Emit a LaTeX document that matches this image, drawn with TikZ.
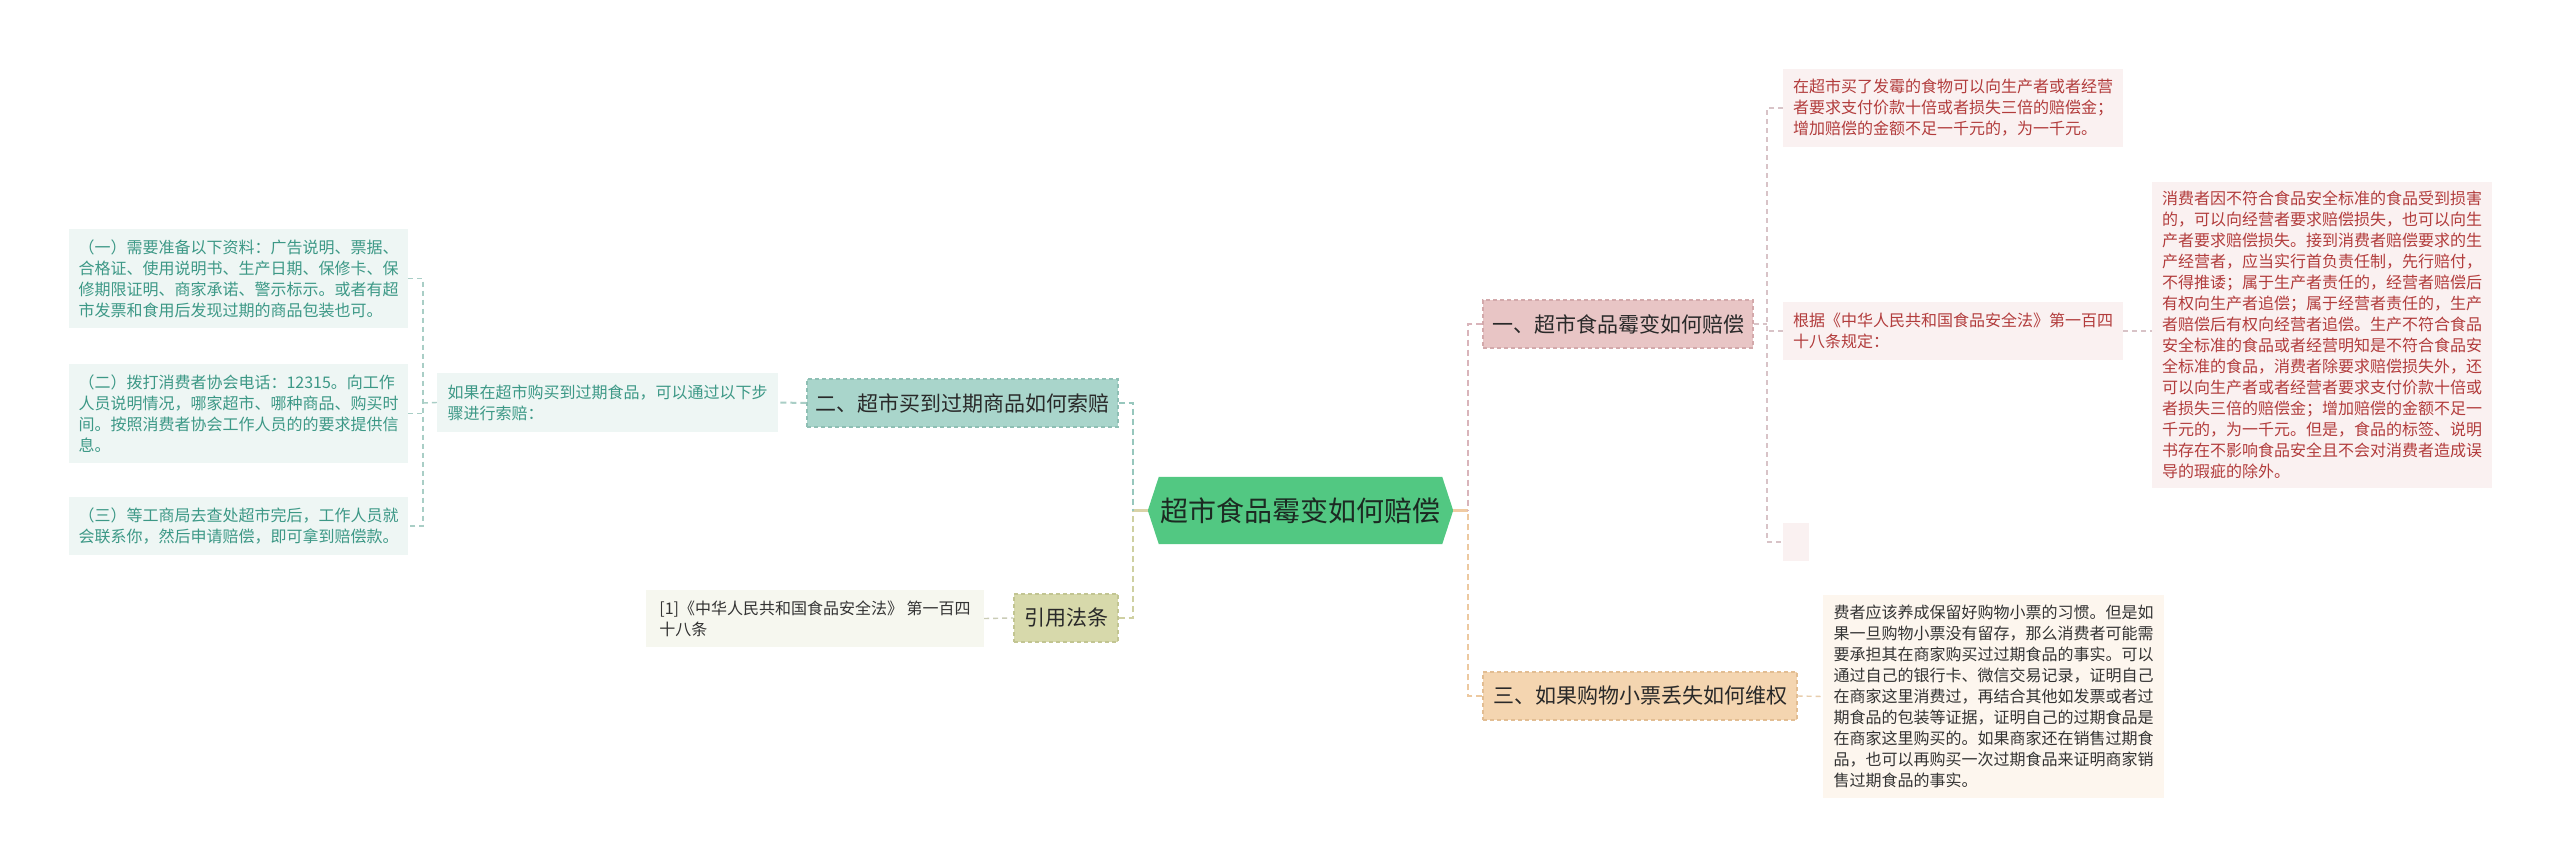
\documentclass[tikz,border=0pt]{standalone}
\usepackage{fontspec}
\setmainfont{Noto Sans CJK SC}
\usetikzlibrary{backgrounds}
\definecolor{cgreen}{HTML}{52C882}
\definecolor{ctext}{HTML}{1C2A22}
\definecolor{b1fill}{HTML}{E8C5C5}
\definecolor{b1line}{HTML}{D3A9AB}
\definecolor{b2fill}{HTML}{A9D5CB}
\definecolor{b2line}{HTML}{8EBFB4}
\definecolor{b3fill}{HTML}{F4D5B0}
\definecolor{b3line}{HTML}{E2BD92}
\definecolor{b4fill}{HTML}{D7D9AB}
\definecolor{b4line}{HTML}{C2C592}
\definecolor{rfill}{HTML}{FAF1F1}
\definecolor{rtext}{HTML}{B23C3C}
\definecolor{lfill}{HTML}{EEF6F4}
\definecolor{ltext}{HTML}{3C9886}
\definecolor{ofill}{HTML}{FDF6EE}
\definecolor{cfill}{HTML}{F6F7EF}
\definecolor{dtext}{HTML}{333333}
\definecolor{kteal}{HTML}{97C7BD}
\definecolor{kolive}{HTML}{CFD0A2}
\definecolor{kpink}{HTML}{D9B4BA}
\definecolor{kpeach}{HTML}{EDC9A0}
\definecolor{kstubl}{HTML}{D9D3A8}
\definecolor{kstubr}{HTML}{F0CBA3}
\definecolor{kR}{HTML}{D8C3C7}
\definecolor{kL}{HTML}{A9CEC6}
\definecolor{kC}{HTML}{CACCB6}
\definecolor{kO}{HTML}{E8CDAC}
\begin{document}
\begin{tikzpicture}[x=1pt,y=-1pt,
  leaf/.style={inner sep=0pt, align=left, font=\fontsize{16}{21}\selectfont},
  rleaf/.style={leaf, fill=rfill, text=rtext},
  lleaf/.style={leaf, fill=lfill, text=ltext},
  oleaf/.style={leaf, fill=ofill, text=dtext},
  cleaf/.style={leaf, fill=cfill, text=dtext},
  branch/.style={inner sep=0pt, minimum height=48pt, text=dtext!80!black, dashed, line width=1.1pt, dash pattern=on 4pt off 3pt, font=\fontsize{21}{26}\selectfont},
  main/.style={line width=2.6pt, dash pattern=on 6pt off 4pt},
  stub/.style={line width=2.6pt},
  thin/.style={line width=1.4pt, dash pattern=on 5pt off 4pt}
]
\useasboundingbox (0,0) rectangle (2560,867);

% center
\node[inner sep=0pt, minimum width=305pt, minimum height=67pt, text=ctext, font=\fontsize{28}{34}\selectfont] (c) at (1300.5,510.5) {超市食品霉变如何赔偿};
\begin{scope}[on background layer]
\fill[white] (0,0) rectangle (2560,867);
\fill[cgreen] (c.west) -- ([xshift=11pt]c.north west) -- ([xshift=-11pt]c.north east) -- (c.east) -- ([xshift=-11pt]c.south east) -- ([xshift=11pt]c.south west) -- cycle;
\end{scope}

% branches
\node[branch, fill=b1fill, draw=b1line, minimum width=270pt] (b1) at (1618,324) {一、超市食品霉变如何赔偿};
\node[branch, fill=b2fill, draw=b2line, minimum width=311pt] (b2) at (962.5,403) {二、超市买到过期商品如何索赔};
\node[branch, fill=b3fill, draw=b3line, minimum width=314pt] (b3) at (1640,696) {三、如果购物小票丢失如何维权};
\node[branch, fill=b4fill, draw=b4line, minimum width=104pt] (b4) at (1066,618) {引用法条};

% right leaves
\node[rleaf, minimum width=340pt, minimum height=78pt] (r1) at (1953,108) {在超市买了发霉的食物可以向生产者或者经营\\者要求支付价款十倍或者损失三倍的赔偿金；\\增加赔偿的金额不足一千元的，为一千元。};
\node[rleaf, minimum width=340pt, minimum height=58pt] (r2) at (1953,331) {根据《中华人民共和国食品安全法》第一百四\\十八条规定：};
\node[rleaf, minimum width=340pt, minimum height=306pt] (r3) at (2322,335) {消费者因不符合食品安全标准的食品受到损害\\的，可以向经营者要求赔偿损失，也可以向生\\产者要求赔偿损失。接到消费者赔偿要求的生\\产经营者，应当实行首负责任制，先行赔付，\\不得推诿；属于生产者责任的，经营者赔偿后\\有权向生产者追偿；属于经营者责任的，生产\\者赔偿后有权向经营者追偿。生产不符合食品\\安全标准的食品或者经营明知是不符合食品安\\全标准的食品，消费者除要求赔偿损失外，还\\可以向生产者或者经营者要求支付价款十倍或\\者损失三倍的赔偿金；增加赔偿的金额不足一\\千元的，为一千元。但是，食品的标签、说明\\书存在不影响食品安全且不会对消费者造成误\\导的瑕疵的除外。};
\node[rleaf, minimum width=26pt, minimum height=38pt] (r4) at (1796,542) {};
\node[oleaf, minimum width=341pt, minimum height=203pt] (r5) at (1993.5,696.5) {费者应该养成保留好购物小票的习惯。但是如\\果一旦购物小票没有留存，那么消费者可能需\\要承担其在商家购买过过期食品的事实。可以\\通过自己的银行卡、微信交易记录，证明自己\\在商家这里消费过，再结合其他如发票或者过\\期食品的包装等证据，证明自己的过期食品是\\在商家这里购买的。如果商家还在销售过期食\\品，也可以再购买一次过期食品来证明商家销\\售过期食品的事实。};

% left leaves
\node[lleaf, minimum width=341pt, minimum height=59pt] (l1) at (607.5,402.5) {如果在超市购买到过期食品，可以通过以下步\\骤进行索赔：};
\node[lleaf, minimum width=339pt, minimum height=99pt] (la) at (238.5,278.5) {（一）需要准备以下资料：广告说明、票据、\\合格证、使用说明书、生产日期、保修卡、保\\修期限证明、商家承诺、警示标示。或者有超\\市发票和食用后发现过期的商品包装也可。};
\node[lleaf, minimum width=339pt, minimum height=99pt] (lb) at (238.5,413.5) {（二）拨打消费者协会电话：12315。向工作\\人员说明情况，哪家超市、哪种商品、购买时\\间。按照消费者协会工作人员的的要求提供信\\息。};
\node[lleaf, minimum width=339pt, minimum height=58pt] (lc) at (238.5,526) {（三）等工商局去查处超市完后，工作人员就\\会联系你，然后申请赔偿，即可拿到赔偿款。};
\node[cleaf, minimum width=338pt, minimum height=57pt] (ct) at (815,618.5) {[1]《中华人民共和国食品安全法》 第一百四\\十八条};

% junctions
\coordinate (jl) at (1133,510.5);
\coordinate (jr) at (1468,510.5);
\coordinate (jR) at (1767,324);
\coordinate (jL) at (423,403);

% main connectors
\draw[stub, kstubl] (c.west) -- (jl);
\draw[main, kteal] (b2.east) -- (b2.east -| jl) -- (jl);
\draw[main, kolive] (b4.east) -- (b4.east -| jl) -- (jl);
\draw[stub, kstubr] (c.east) -- (jr);
\draw[main, kpink] (b1.west) -- (b1.west -| jr) -- (jr);
\draw[main, kpeach] (b3.west) -- (b3.west -| jr) -- (jr);

% right leaf connectors
\draw[thin, kR] (b1.east) -- (jR);
\draw[thin, kR] (r1.west) -- (r1.west -| jR) -- (r4.west -| jR) -- (r4.west);
\draw[thin, kR] (r2.west) -- (r2.west -| jR);
\draw[thin, kR] (r2.east) -- (r2.east -| r3.west);
\draw[thin, kO] (b3.east) -- (r5.west);

% left leaf connectors
\draw[line width=2pt, dash pattern=on 6pt off 4pt, kL] (b2.west) -- (l1.east);
\draw[thin, kL] (l1.west) -- (jL);
\draw[thin, kL] (la.east) -- (la.east -| jL) -- (lc.east -| jL) -- (lc.east);
\draw[thin, kL] (lb.east) -- (lb.east -| jL);
\draw[thin, kC] (ct.east) -- (b4.west);
\end{tikzpicture}
\end{document}
